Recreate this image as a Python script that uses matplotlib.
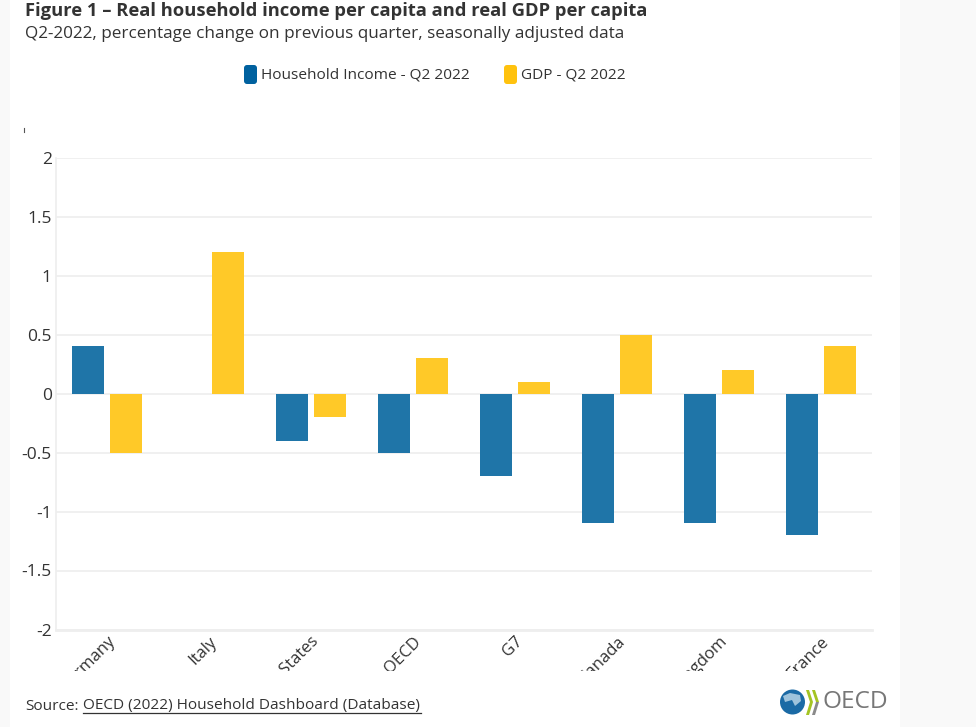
import matplotlib
matplotlib.use("Agg")
import matplotlib.pyplot as plt
import numpy as np
from matplotlib.patches import Circle, FancyBboxPatch, Polygon, Rectangle
from matplotlib.transforms import Bbox

plt.rcParams['font.family'] = ['Open Sans', 'DejaVu Sans']

countries = ["Germany", "Italy", "United States", "OECD", "G7", "Canada", "United Kingdom", "France"]
household_income = [0.4, 0, -0.4, -0.5, -0.7, -1.1, -1.1, -1.2]
gdp = [-0.5, 1.2, -0.2, 0.3, 0.1, 0.5, 0.2, 0.4]
y_ticks = [-2, -1.5, -1, -0.5, 0, 0.5, 1, 1.5, 2]
y_labels = ["-2", "-1.5", "-1", "-0.5", "0", "0.5", "1", "1.5", "2"]

W, H = 976, 727
TEXT = "#333333"

fig = plt.figure(figsize=(W / 100, H / 100), dpi=100, facecolor="#f9f9f9")

# page layer in pixel coordinates, y going down
bg = fig.add_axes([0, 0, 1, 1])
bg.set_xlim(0, W)
bg.set_ylim(H, 0)
bg.axis("off")
bg.add_patch(Rectangle((10, 0), 890, H, color="white", lw=0))

bg.text(25, 11, "Figure 1 – Real household income per capita and real GDP per capita",
        fontsize=13.25, fontweight="bold", color=TEXT, va="center")
bg.text(25, 34.5, "Q2-2022, percentage change on previous quarter, seasonally adjusted data",
        fontsize=12.3, color=TEXT, va="center")

# legend
bg.add_patch(FancyBboxPatch((244, 65), 13, 19, boxstyle="round,pad=0,rounding_size=3",
                            color="#00619f", lw=0))
bg.text(261, 75, "Household Income - Q2 2022", fontsize=11.05, color=TEXT, va="center")
bg.add_patch(FancyBboxPatch((504, 65), 13, 19, boxstyle="round,pad=0,rounding_size=3",
                            color="#ffc20e", lw=0))
bg.text(521, 75, "GDP - Q2 2022", fontsize=11.05, color=TEXT, va="center")
bg.plot([24, 24], [128, 132], color="#555555", lw=0.8)

# chart
ax = fig.add_axes([56 / W, (H - 629.5) / H, 816 / W, 472 / H])
ax.set_facecolor("none")
x = np.arange(len(countries))
ax.bar(x - 0.186, household_income, width=0.315, color="#1f75a8", zorder=3)
ax.bar(x + 0.186, gdp, width=0.315, color="#ffc928", zorder=3)
ax.set_xlim(-0.5, 7.5)
ax.set_ylim(-2, 2)
ax.set_yticks(y_ticks)
ax.set_yticklabels(y_labels, fontsize=12.5, color=TEXT)
ax.grid(axis="y", color="#eeeeee", lw=1.2, zorder=0)
ax.tick_params(axis="y", length=0, pad=3)
ax.tick_params(axis="x", length=0, pad=3)
for side in ["top", "right"]:
    ax.spines[side].set_visible(False)
ax.spines["left"].set_color("#eeeeee")
ax.spines["bottom"].set_color("#eeeeee")
ax.spines["left"].set_linewidth(1.2)
ax.spines["bottom"].set_linewidth(2)

# long country names get cut off under the plot, like in the original
ax.set_xticks(x)
ax.set_xticklabels(countries, fontsize=12, color=TEXT, rotation=45, ha="right",
                   rotation_mode="anchor")
clip = Bbox.from_extents(0, H - 671, W, H - 630)
for lab in ax.get_xticklabels():
    lab.set_clip_on(True)
    lab.set_clip_box(clip)

# footer
bg.text(25, 706, "Source:", fontsize=11.05, color=TEXT, va="center")
bg.text(83, 706, "OECD (2022) Household Dashboard (Database)", fontsize=11.05, color=TEXT, va="center")
bg.plot([83, 421], [713, 713], color=TEXT, lw=0.9)

# logo
bg.add_patch(Circle((792.5, 702), 12.5, color="#1b6aa5", lw=0))
bg.add_patch(Polygon([(783, 696), (790, 693), (800, 695), (801, 701), (795, 706), (792, 700), (785, 702)],
                     color="#9ec3dc", lw=0))
bg.add_patch(Polygon([(806, 690), (809, 690), (813, 702), (810, 702)], color="#a4c423", lw=0))
bg.add_patch(Polygon([(810, 702), (813, 702), (809, 715), (806, 715)], color="#a4c423", lw=0))
bg.add_patch(Polygon([(812, 690), (815, 690), (819, 702), (816, 702)], color="#a4c423", lw=0))
bg.add_patch(Polygon([(816, 702), (819, 702), (815, 715), (812, 715)], color="#8a8a8a", lw=0))
bg.text(822, 702, "OECD", fontsize=17.6, color="#777777", va="center")

fig.savefig("out.png", dpi=100, facecolor=fig.get_facecolor())
